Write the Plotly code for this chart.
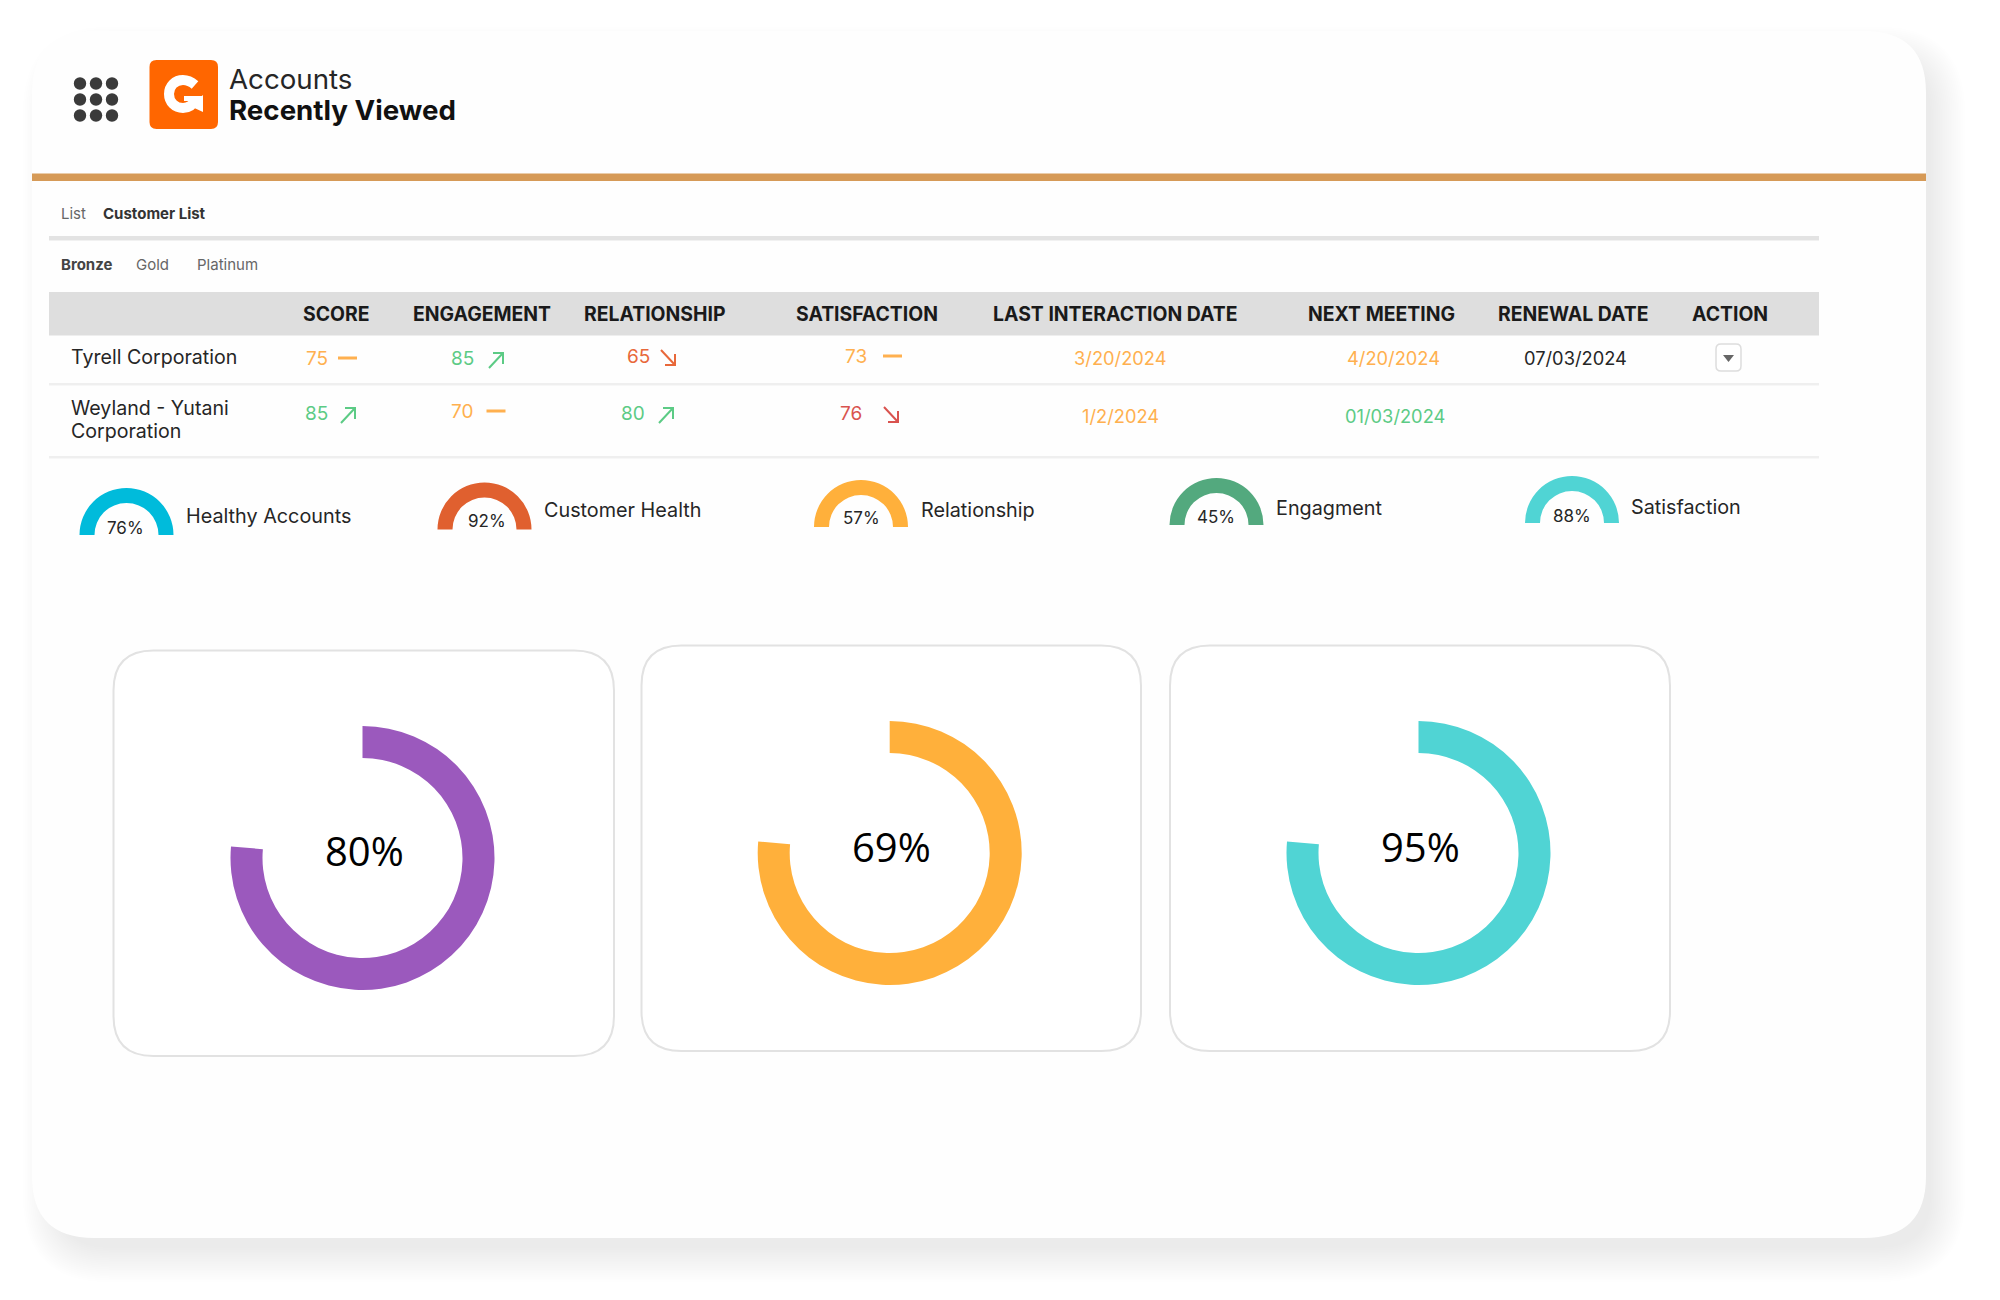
import plotly.graph_objects as go

W = 2000
H = 1300

# header texts
title_lines = ["Accounts", "Recently Viewed"]
tabs_top = ["List", "Customer List"]
tabs_tier = ["Bronze", "Gold", "Platinum"]
table_columns = ["SCORE", "ENGAGEMENT", "RELATIONSHIP", "SATISFACTION",
                 "LAST INTERACTION DATE", "NEXT MEETING", "RENEWAL DATE", "ACTION"]

# table values
companies = [["Tyrell Corporation"], ["Weyland - Yutani", "Corporation"]]
tyrell_scores = [75, 85, 65, 73]
tyrell_trends = ["flat", "up", "down", "flat"]
weyland_scores = [85, 70, 80, 76]
weyland_trends = ["up", "flat", "up", "down"]
tyrell_dates = ["3/20/2024", "4/20/2024", "07/03/2024"]
weyland_dates = ["1/2/2024", "01/03/2024"]

# small gauges, the arc is always a half circle in the picture
gauge_names = ["Healthy Accounts", "Customer Health", "Relationship", "Engagment", "Satisfaction"]
gauge_labels = ["76%", "92%", "57%", "45%", "88%"]
gauge_slices = [50, 50]

# big donuts, all three share the same sweep whatever the label says
donut_labels = ["80%", "69%", "95%"]
donut_slices = [76.4, 23.6]

GREEN = "#5CCB85"
AMBER = "#FFB04F"
CORAL = "#E8683A"
RED = "#D9534F"
TEXT = "#262626"
FONT = "Inter"

gauge_colors = ["#00BBDB", "#E0602F", "#FFB03B", "#53A97E", "#50D4D4"]
donut_colors = ["#9B59BD", "#FFB03B", "#50D4D4"]

# pixel places
gauge_cx = [126.5, 484.5, 861, 1216.5, 1572]
gauge_cy = [535, 529.5, 527, 525, 523]
gauge_text = [(125, 529), (486.5, 522), (861, 519), (1216, 518), (1572, 517)]
gauge_name_pos = [(186, 517), (544, 511), (921, 511), (1276, 509), (1631, 508)]
donut_cx = [362.5, 889.7, 1418.5]
donut_cy = [858, 853, 853]
donut_text = [(364, 851), (891, 847), (1420, 847)]
cards = [(113.5, 650.5, 614, 1056), (641.5, 645.5, 1141, 1051), (1170, 645.5, 1670, 1051)]
col_x = [336, 481.5, 655, 867, 1115, 1381, 1573, 1730]

shapes = []
annotations = []


def rounded(x0, y0, x1, y1, r):
    return (f"M{x0 + r},{y0} L{x1 - r},{y0} Q{x1},{y0} {x1},{y0 + r} L{x1},{y1 - r} Q{x1},{y1} {x1 - r},{y1} "
            f"L{x0 + r},{y1} Q{x0},{y1} {x0},{y1 - r} L{x0},{y0 + r} Q{x0},{y0} {x0 + r},{y0} Z")


def add_rect(x0, y0, x1, y1, color):
    shapes.append(dict(type="rect", x0=x0, y0=y0, x1=x1, y1=y1, fillcolor=color, line_width=0, layer="below"))


def add_text(x, y, text, size, color=TEXT, anchor="center", bold=False, family=FONT):
    # annotation boxes have a little padding, pull the text back onto its spot
    if anchor == "left":
        x -= 2.5
    annotations.append(dict(x=x, y=y - 1, text=f"<b>{text}</b>" if bold else str(text), showarrow=False,
                            xanchor=anchor, yanchor="middle", align=anchor,
                            font=dict(family=family, size=size, color=color)))


def add_trend(x, y, trend, color):
    # x, y is the middle of the symbol
    if trend == "flat":
        path = f"M{x - 9.5},{y} L{x + 9.5},{y}"
        width = 3
    elif trend == "up":
        path = (f"M{x - 7},{y + 8} L{x + 7},{y - 7} M{x - 3},{y - 7} L{x + 7},{y - 7} L{x + 7},{y + 4}")
        width = 2
    else:
        path = (f"M{x - 7},{y - 8} L{x + 7},{y + 7} M{x - 3},{y + 7} L{x + 7},{y + 7} L{x + 7},{y - 4}")
        width = 2
    shapes.append(dict(type="path", path=path, line=dict(color=color, width=width), layer="below"))


# soft shadow under the main card
for i in range(20):
    grow = 24 - i * 1.8
    shapes.append(dict(type="path", path=rounded(32 + 15 - grow, 31 + 20 - grow, 1926 + 15 + grow, 1238 + 20 + grow, 62 + grow),
                       fillcolor="rgba(90,90,90,0.009)", line_width=0, layer="below"))
shapes.append(dict(type="path", path=rounded(32, 31, 1926, 1238, 62), fillcolor="#FEFEFE", line_width=0, layer="below"))

# top bar
add_rect(32, 173.5, 1926, 181, "#D69A57")
for x in [80, 96, 112]:
    for y in [83.5, 99.5, 115.5]:
        shapes.append(dict(type="circle", x0=x - 6.2, x1=x + 6.2, y0=y - 6.2, y1=y + 6.2, fillcolor="#3A3A3A", line_width=0, layer="below"))
shapes.append(dict(type="path", path=rounded(149.5, 60, 218, 129, 7), fillcolor="#FF6600", line_width=0, layer="below"))

# logo mark
shapes.append(dict(type="path", line=dict(color="#FFFFFF", width=10), layer="below",
                   path="M195,85 C191,81.5 187,80 183,80 C175,80 169,86 169,94 C169,102 175,108 183,108 C189,108 193,105 196,99"))
shapes.append(dict(type="path", fillcolor="#FFFFFF", line_width=0, layer="below",
                   path="M203,95 L203,112 L190,106 Z"))
shapes.append(dict(type="path", fillcolor="#FFFFFF", line_width=0, layer="below",
                   path="M184,96 L203,96 L203,101 L184,101 Z"))

add_text(229, 80, title_lines[0], 27.7, anchor="left")
add_text(229, 111, title_lines[1], 27.7, "#111111", "left", True)

# tabs
add_text(61, 214, tabs_top[0], 15, "#666666", "left")
add_text(103, 214, tabs_top[1], 15, "#333333", "left", True)
add_rect(49, 236, 1819, 240.5, "#E3E3E3")
for x, label, is_bold in zip([61, 136, 197], tabs_tier, [True, False, False]):
    add_text(x, 265, label, 15, "#444444" if is_bold else "#666666", "left", is_bold)

# table
add_rect(49, 292, 1819, 335.5, "#DEDEDE")
for x, label in zip(col_x, table_columns):
    add_text(x, 315, label, 19.4, "#1A1A1A", bold=True)
add_rect(49, 383, 1819, 385.5, "#EFEFEF")
add_rect(49, 456, 1819, 458.5, "#EFEFEF")

add_text(71, 358, companies[0][0], 19.6, anchor="left")
add_text(71, 409, companies[1][0], 19.6, anchor="left")
add_text(71, 432, companies[1][1], 19.6, anchor="left")

trend_colors = {"flat": AMBER, "up": GREEN, "down": CORAL}
row1_num = [(317, 359), (462, 359), (638, 357), (856, 357)]
row1_sym = [(347.5, 358), (496, 360), (668, 358), (892.5, 356)]
row2_num = [(316, 414), (462, 412.5), (633, 414), (851, 414)]
row2_sym = [(348, 415), (496, 411), (666, 415), (891, 415)]
for num, sym, value, trend in zip(row1_num, row1_sym, tyrell_scores, tyrell_trends):
    add_text(num[0], num[1], value, 19, trend_colors[trend])
    add_trend(sym[0], sym[1], trend, trend_colors[trend])
for num, sym, value, trend in zip(row2_num, row2_sym, weyland_scores, weyland_trends):
    color = RED if trend == "down" else trend_colors[trend]
    add_text(num[0], num[1], value, 19, color)
    add_trend(sym[0], sym[1], trend, color)

add_text(1120, 359, tyrell_dates[0], 18.3, AMBER)
add_text(1393, 359, tyrell_dates[1], 18.3, AMBER)
add_text(1575, 359, tyrell_dates[2], 18.3)
add_text(1120, 417, weyland_dates[0], 18.3, AMBER)
add_text(1395, 417, weyland_dates[1], 18.3, GREEN)

# action button
shapes.append(dict(type="path", path=rounded(1716, 344, 1741, 371, 5), fillcolor="#FFFFFF",
                   line=dict(color="#DDDDDD", width=1.5), layer="below"))
shapes.append(dict(type="path", path="M1723,355 L1734,355 L1728.5,362 Z", fillcolor="#666666", line_width=0, layer="below"))

fig = go.Figure()

# keeps the pixel axes alive, the other traces are pies
fig.add_trace(go.Scatter(x=[0, W], y=[0, H], mode="markers", marker=dict(opacity=0), hoverinfo="skip", showlegend=False))


def dom(cx, cy, r):
    return dict(x=[(cx - r) / W, (cx + r) / W], y=[1 - (cy + r) / H, 1 - (cy - r) / H])


for i in range(len(gauge_names)):
    fig.add_trace(go.Pie(values=gauge_slices, hole=32 / 47, rotation=-90, sort=False, direction="clockwise",
                         domain=dom(gauge_cx[i], gauge_cy[i], 47), textinfo="none", hoverinfo="skip", showlegend=False,
                         marker=dict(colors=[gauge_colors[i], "rgba(0,0,0,0)"], line=dict(width=0))))
    add_text(gauge_text[i][0], gauge_text[i][1], gauge_labels[i], 17)
    add_text(gauge_name_pos[i][0], gauge_name_pos[i][1], gauge_names[i], 19.8, anchor="left")

for i in range(len(donut_labels)):
    shapes.append(dict(type="path", path=rounded(*cards[i], 40), fillcolor="#FFFFFF",
                       line=dict(color="#E2E2E2", width=2), layer="below"))
    fig.add_trace(go.Pie(values=donut_slices, hole=100 / 132, rotation=0, sort=False, direction="clockwise",
                         domain=dom(donut_cx[i], donut_cy[i], 132), textinfo="none", hoverinfo="skip", showlegend=False,
                         marker=dict(colors=[donut_colors[i], "rgba(0,0,0,0)"], line=dict(width=0))))
    add_text(donut_text[i][0], donut_text[i][1], donut_labels[i], 40, "#000000", family="Open Sans")

fig.update_layout(
    width=W, height=H,
    margin=dict(l=0, r=0, t=0, b=0),
    paper_bgcolor="#FFFFFF",
    plot_bgcolor="rgba(0,0,0,0)",
    showlegend=False,
    xaxis=dict(range=[0, W], visible=False, fixedrange=True),
    yaxis=dict(range=[H, 0], visible=False, fixedrange=True),
    shapes=shapes,
    annotations=annotations,
)

# the page body has a default margin that would push the figure off by 8px
fig.write_html("out.html", config=dict(displayModeBar=False), post_script="document.body.style.margin='0';")
